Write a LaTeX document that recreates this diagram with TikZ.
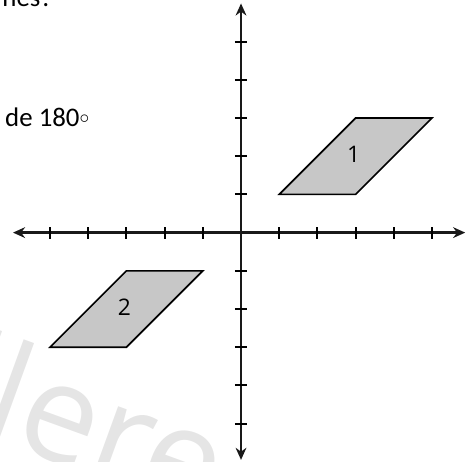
\documentclass[tikz,border=0pt]{standalone}
\usepackage{fontspec}
\usetikzlibrary{arrows.meta}
\setmainfont{Carlito}
\newfontfamily\figfont{Open Sans}
\tikzset{
  eje/.style={{Stealth[length=9pt,width=8pt]}-{Stealth[length=9pt,width=8pt]}, black!90, line width=1.9pt},
  tick/.style={line width=1.5pt},
  figura/.style={fill=black!22, draw=black, line width=1.2pt, line join=miter},
  etiqueta/.style={font=\figfont\fontsize{17}{20}\selectfont, inner sep=0pt},
  texto/.style={font=\fontsize{20}{24}\selectfont, inner sep=0pt}
}
\begin{document}
\begin{tikzpicture}[x=1cm, y=1cm]
  \useasboundingbox (-6.31,-5.98) rectangle (5.89,6.09);

  % 1. marca de agua (fondo)
  \node[rotate=-20, anchor=base west, text=black!10, inner sep=0pt,
        font=\figfont\fontsize{102}{105}\selectfont] (marca) at (-7.75,-4.95) {llere};

  % 2. texto del enunciado
  \node[texto, anchor=base east] (pregunta) at (-4.92,5.91) {nes?};
  \node[texto, anchor=base west] (giro) at (-6.18,2.79) {de 180\raisebox{2pt}{\fontsize{14}{14}\selectfont$\circ$}};

  % 3. ejes con marcas
  \draw[eje] (-5.97,0) -- (5.87,0);
  \draw[eje] (0,-5.95) -- (0,6.0);
  \foreach \i in {-5,...,-1,1,2,...,5} {
    \draw[tick] (\i,-0.16) -- (\i,0.16);
    \draw[tick] (-0.16,\i) -- (0.16,\i);
  }

  % 4. paralelogramos
  \draw[figura] (1,1) -- (3,1) -- (5,3) -- (3,3) -- cycle;
  \node[etiqueta] (f1) at (2.95,2.05) {1};
  \draw[figura] (-1,-1) -- (-3,-1) -- (-5,-3) -- (-3,-3) -- cycle;
  \node[etiqueta] (f2) at (-3.05,-1.95) {2};
\end{tikzpicture}
\end{document}
